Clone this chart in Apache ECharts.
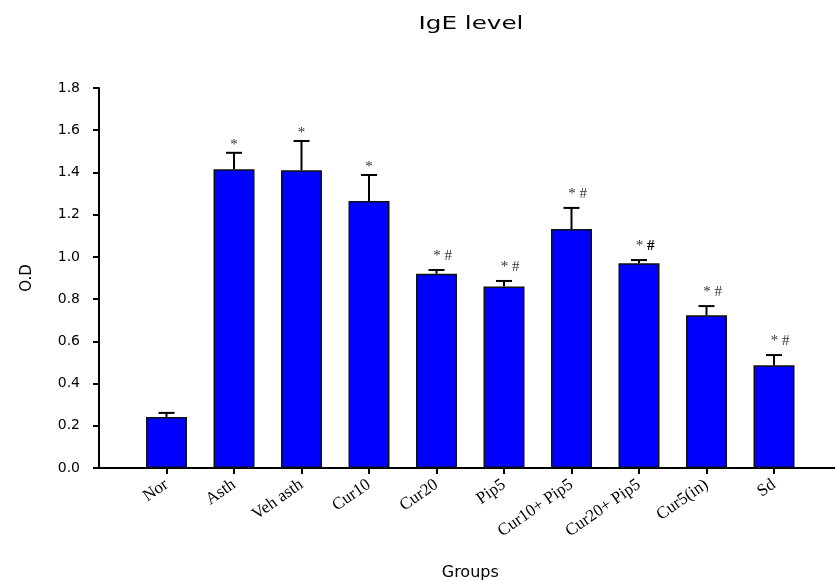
<!DOCTYPE html>
<html lang="en">
<head>
    <meta charset="UTF-8">
    <title>IgE level</title>
    <script src="https://cdn.jsdelivr.net/npm/echarts@6/dist/echarts.min.js"></script>
    <style>
        html, body { margin: 0; padding: 0; background: #fff; }
        #chart { width: 835px; height: 580px; }
    </style>
</head>
<body>
    <div id="chart"></div>
    <script>
        // values
        const groups = ['Nor', 'Asth', 'Veh asth', 'Cur10', 'Cur20', 'Pip5', 'Cur10+ Pip5', 'Cur20+ Pip5', 'Cur5(in)', 'Sd'];
        const means = [0.242, 1.415, 1.410, 1.265, 0.920, 0.860, 1.132, 0.970, 0.723, 0.487];
        const upper = [0.261, 1.493, 1.549, 1.388, 0.938, 0.886, 1.232, 0.985, 0.767, 0.535];
        const marks = ['', '*', '*', '*', '* #', '* #', '* #', '* {b|#}', '* #', '* #'];
        const yTicks = [0, 0.2, 0.4, 0.6, 0.8, 1.0, 1.2, 1.4, 1.6, 1.8];

        // one empty slot on each side so the axis runs past the first and last bar
        const cats = [''].concat(groups, ['']);
        const barData = [null].concat(means, [null]);
        const errData = groups.map((g, i) => [i + 1, means[i], upper[i], marks[i]]);

        const chart = echarts.init(document.getElementById('chart'));
        chart.setOption({
            animation: false,
            // the source figure is stretched sideways, so the title is widened to match
            graphic: [{
                type: 'text',
                x: 471,
                y: 25,
                scaleX: 1.45,
                style: {
                    text: 'IgE level',
                    align: 'center',
                    verticalAlign: 'middle',
                    fontFamily: 'DejaVu Sans',
                    fontSize: 17,
                    fill: '#000'
                }
            }],
            grid: { left: 99, top: 88, width: 742.5, height: 380, outerBoundsMode: 'none', containLabel: false },
            xAxis: {
                type: 'category',
                data: cats,
                boundaryGap: false,
                name: 'Groups',
                nameLocation: 'middle',
                nameGap: 97,
                nameTextStyle: { fontFamily: 'DejaVu Sans', fontSize: 16, color: '#000' },
                axisLine: { lineStyle: { color: '#000', width: 2 } },
                axisTick: {
                    interval: (i) => i > 0 && i < cats.length - 1,
                    length: 6,
                    lineStyle: { color: '#000', width: 2 }
                },
                axisLabel: {
                    interval: 0,
                    rotate: 35,
                    margin: 15,
                    fontFamily: 'Liberation Serif',
                    fontSize: 17,
                    color: '#000'
                },
                splitLine: { show: false }
            },
            yAxis: {
                type: 'value',
                min: 0,
                max: 1.8,
                interval: 0.2,
                name: 'O.D',
                nameLocation: 'middle',
                nameGap: 64,
                nameRotate: 90,
                nameTextStyle: { fontFamily: 'DejaVu Sans', fontSize: 15, color: '#000' },
                axisLine: { show: true, lineStyle: { color: '#000', width: 2 } },
                axisTick: { show: true, length: 6, lineStyle: { color: '#000', width: 2 } },
                axisLabel: {
                    margin: 19,
                    fontFamily: 'DejaVu Sans',
                    fontSize: 14,
                    color: '#000',
                    formatter: (v) => {
                        const t = yTicks.find(k => Math.abs(k - v) < 1e-6);
                        return t === undefined ? '' : t.toFixed(1);
                    }
                },
                splitLine: { show: false }
            },
            series: [
                {
                    type: 'bar',
                    data: barData,
                    barWidth: 41,
                    itemStyle: { color: '#0000ff', borderColor: '#111', borderWidth: 1.5 },
                    z: 2
                },
                {
                    type: 'custom',
                    data: errData,
                    encode: { x: 0, y: 1 },
                    z: 3,
                    renderItem: function (params, api) {
                        const top = api.coord([api.value(0), api.value(1)]);
                        const cap = api.coord([api.value(0), api.value(2)]);
                        const mark = marks[params.dataIndex];
                        const children = [
                            {
                                type: 'line',
                                shape: { x1: top[0], y1: top[1], x2: cap[0], y2: cap[1] },
                                style: { stroke: '#000', lineWidth: 2 }
                            },
                            {
                                type: 'line',
                                shape: { x1: cap[0] - 8, y1: cap[1], x2: cap[0] + 8, y2: cap[1] },
                                style: { stroke: '#000', lineWidth: 2 }
                            }
                        ];
                        if (mark) {
                            const wide = mark.indexOf('#') >= 0;
                            children.push({
                                type: 'text',
                                x: cap[0] + (wide ? 6 : 0),
                                y: cap[1] - (wide ? 14 : 8),
                                style: {
                                    text: mark,
                                    align: 'center',
                                    verticalAlign: 'middle',
                                    fontFamily: 'Liberation Serif',
                                    fontSize: 15,
                                    fill: '#333',
                                    rich: { b: { fontWeight: 'bold', fontFamily: 'Liberation Serif', fontSize: 15, fill: '#000' } }
                                }
                            });
                        }
                        return { type: 'group', children: children };
                    }
                }
            ]
        });
    </script>
</body>
</html>
